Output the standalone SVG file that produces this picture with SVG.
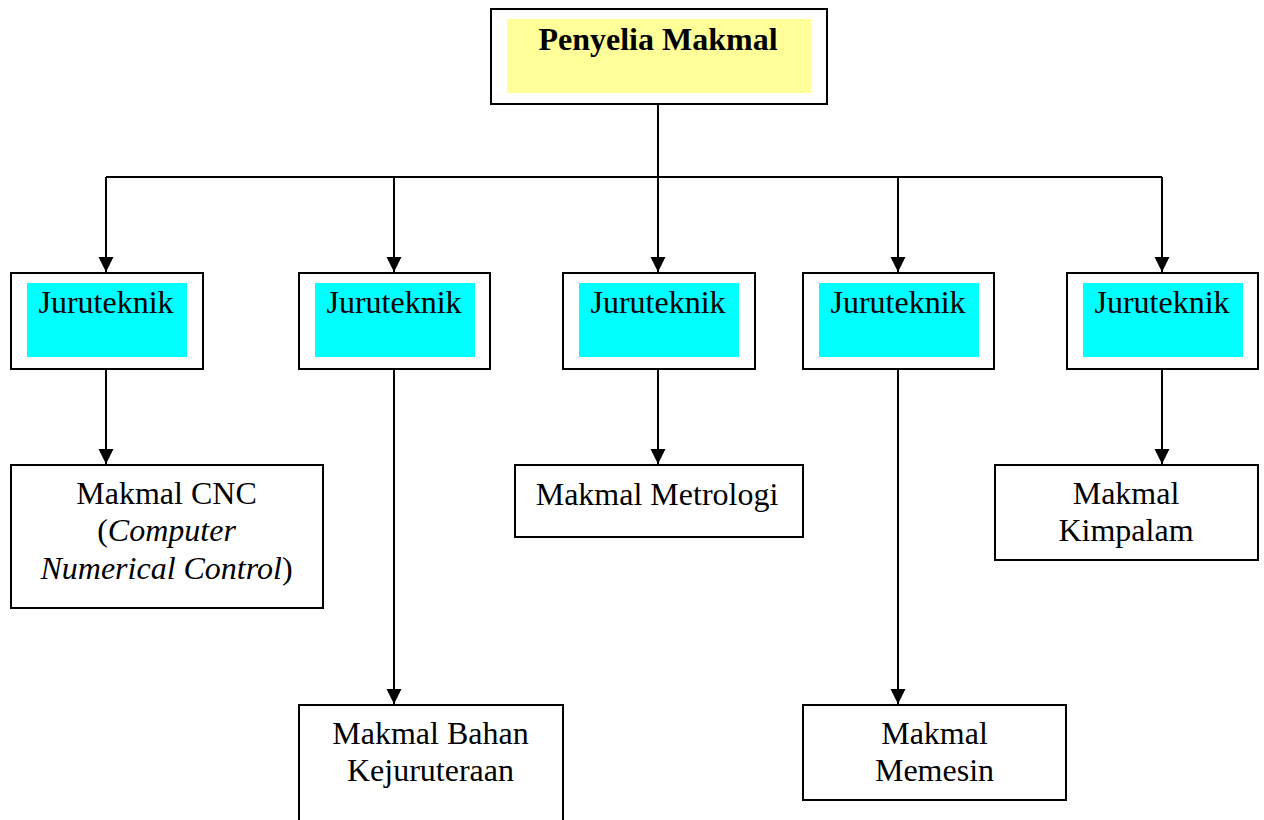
<svg xmlns="http://www.w3.org/2000/svg" width="1264" height="820" viewBox="0 0 1264 820">
<style>
.box{fill:#fff;stroke:#000;stroke-width:2}
.yel{fill:#ffff99}
.cyan{fill:#00ffff}
.t{font-family:"Liberation Serif","Times New Roman",serif;font-size:32px;fill:#000;text-anchor:middle}
.b{font-weight:bold}
.i{font-style:italic}
.ln{fill:none;stroke:#000;stroke-width:2}
</style>
<defs>
<marker id="arr" markerUnits="userSpaceOnUse" markerWidth="16" markerHeight="16" refX="15" refY="8" orient="auto">
<path d="M0,0.5 L15,8 L0,15.5 z" fill="#000"/>
</marker>
</defs>
<g id="connectors">
<path class="ln" d="M658,104 V177"/>
<path class="ln" d="M106,177 H1162"/>
<path class="ln" d="M106,177 V272" marker-end="url(#arr)"/>
<path class="ln" d="M394,177 V272" marker-end="url(#arr)"/>
<path class="ln" d="M658,177 V272" marker-end="url(#arr)"/>
<path class="ln" d="M898,177 V272" marker-end="url(#arr)"/>
<path class="ln" d="M1162,177 V272" marker-end="url(#arr)"/>
<path class="ln" d="M106,369 V464" marker-end="url(#arr)"/>
<path class="ln" d="M394,369 V704" marker-end="url(#arr)"/>
<path class="ln" d="M658,369 V464" marker-end="url(#arr)"/>
<path class="ln" d="M898,369 V704" marker-end="url(#arr)"/>
<path class="ln" d="M1162,369 V464" marker-end="url(#arr)"/>
</g>
<g id="penyelia">
<rect class="box" x="491" y="9" width="336" height="95"/>
<rect class="yel" x="507" y="19" width="304" height="74"/>
<text class="t b" x="658" y="50">Penyelia Makmal</text>
</g>
<g id="juru1">
<rect class="box" x="11" y="273" width="192" height="96"/>
<rect class="cyan" x="27" y="283" width="160" height="74"/>
<text class="t" x="106" y="313">Juruteknik</text>
</g>
<g id="juru2">
<rect class="box" x="299" y="273" width="191" height="96"/>
<rect class="cyan" x="315" y="283" width="160" height="74"/>
<text class="t" x="394" y="313">Juruteknik</text>
</g>
<g id="juru3">
<rect class="box" x="563" y="273" width="192" height="96"/>
<rect class="cyan" x="579" y="283" width="160" height="74"/>
<text class="t" x="658" y="313">Juruteknik</text>
</g>
<g id="juru4">
<rect class="box" x="803" y="273" width="191" height="96"/>
<rect class="cyan" x="819" y="283" width="160" height="74"/>
<text class="t" x="898" y="313">Juruteknik</text>
</g>
<g id="juru5">
<rect class="box" x="1067" y="273" width="191" height="96"/>
<rect class="cyan" x="1083" y="283" width="160" height="74"/>
<text class="t" x="1162" y="313">Juruteknik</text>
</g>
<g id="cnc">
<rect class="box" x="11" y="465" width="312" height="143"/>
<text class="t" x="166.5" y="504">Makmal CNC</text>
<text class="t" x="166.5" y="541">(<tspan class="i">Computer</tspan></text>
<text class="t" x="166.5" y="579"><tspan class="i">Numerical Control</tspan>)</text>
</g>
<g id="bahan">
<rect class="box" x="299" y="705" width="264" height="130"/>
<text class="t" x="430.5" y="744">Makmal Bahan</text>
<text class="t" x="430.5" y="781">Kejuruteraan</text>
</g>
<g id="metrologi">
<rect class="box" x="515" y="465" width="288" height="72"/>
<text class="t" x="657" y="505">Makmal Metrologi</text>
</g>
<g id="memesin">
<rect class="box" x="803" y="705" width="263" height="95"/>
<text class="t" x="934.5" y="744">Makmal</text>
<text class="t" x="934.5" y="781">Memesin</text>
</g>
<g id="kimpalam">
<rect class="box" x="995" y="465" width="263" height="95"/>
<text class="t" x="1126" y="504">Makmal</text>
<text class="t" x="1126" y="541">Kimpalam</text>
</g>
</svg>
